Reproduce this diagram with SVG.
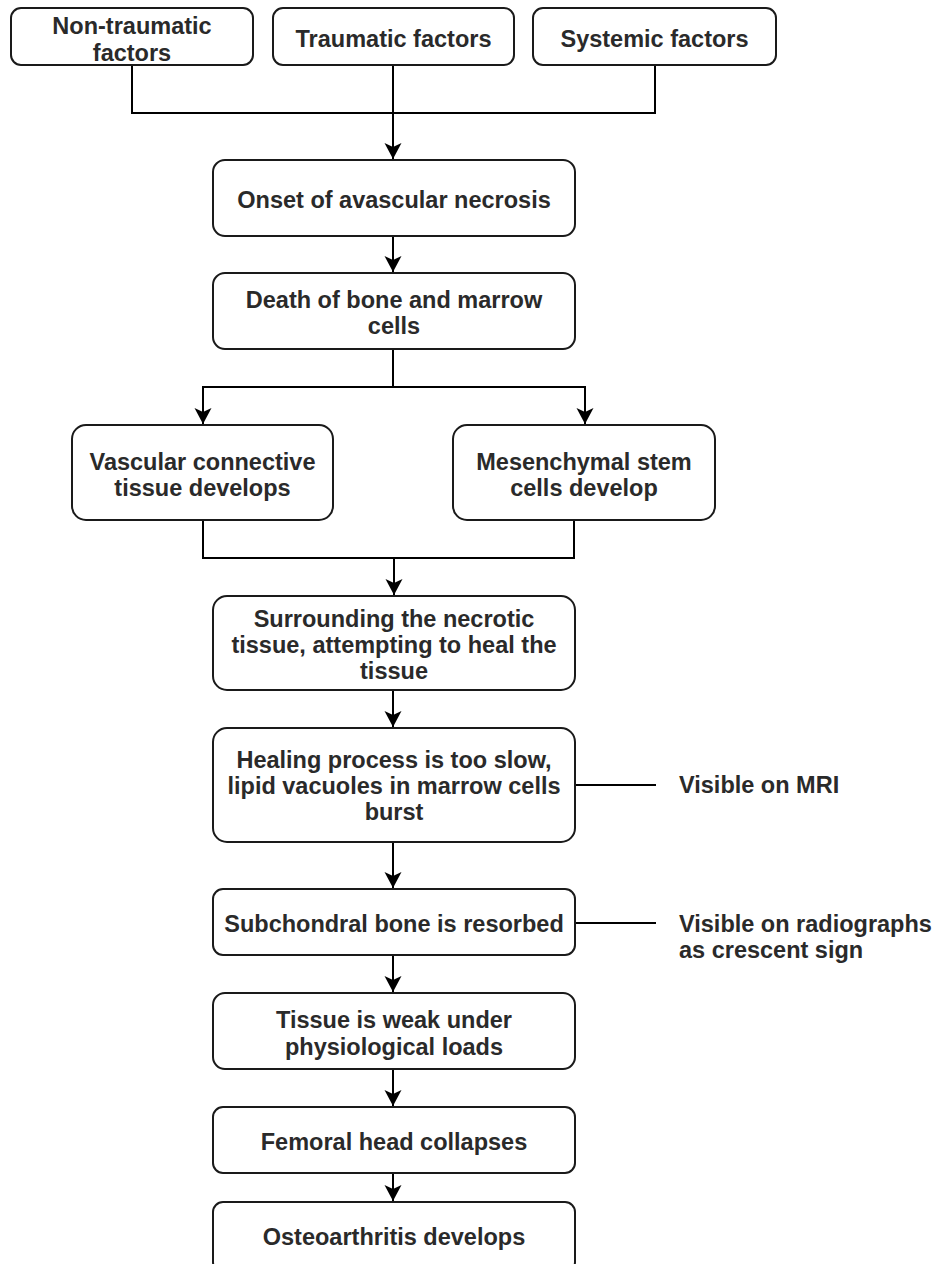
<svg xmlns="http://www.w3.org/2000/svg" width="936" height="1264" viewBox="0 0 936 1264">
<style>
.box{fill:#fff;stroke:#1a1a1a;stroke-width:2}
.t{font-family:"Liberation Sans",Arial,sans-serif;font-size:23.5px;font-weight:bold;fill:#2a2a2a;text-anchor:middle}
.l{text-anchor:start}
.c{fill:none;stroke:#000;stroke-width:2}
</style>
<defs>
<marker id="arr" markerUnits="userSpaceOnUse" markerWidth="18" markerHeight="20" viewBox="-17 -10 18 20" refX="0" refY="0" orient="auto" overflow="visible">
<path d="M0 0 L-16 -8.5 L-12 0 L-16 8.5 Z" fill="#000"/>
</marker>
</defs>
<rect width="936" height="1264" fill="#fff"/>
<g id="connectors">
<path class="c" d="M132 65 V113 H655 V65"/>
<path class="c" d="M393 65 V159" marker-end="url(#arr)"/>
<path class="c" d="M393 236 V272" marker-end="url(#arr)"/>
<path class="c" d="M393 349 V387"/>
<path class="c" d="M393 387 H203 V424" marker-end="url(#arr)"/>
<path class="c" d="M393 387 H585 V424" marker-end="url(#arr)"/>
<path class="c" d="M203 520 V558 H574 V520"/>
<path class="c" d="M394 558 V595" marker-end="url(#arr)"/>
<path class="c" d="M393 690 V727" marker-end="url(#arr)"/>
<path class="c" d="M393 842 V888" marker-end="url(#arr)"/>
<path class="c" d="M393 955 V992" marker-end="url(#arr)"/>
<path class="c" d="M393 1069 V1106" marker-end="url(#arr)"/>
<path class="c" d="M393 1173 V1201" marker-end="url(#arr)"/>
<path class="c" d="M574 785 H656"/>
<path class="c" d="M574 923 H656"/>
</g>
<g id="n-nontraumatic"><rect class="box" x="11" y="8" width="242" height="57" rx="10"/><text class="t" x="132" y="34">Non-traumatic</text><text class="t" x="132" y="60.5">factors</text></g>
<g id="n-traumatic"><rect class="box" x="273" y="8" width="241" height="57" rx="10"/><text class="t" x="393.5" y="47">Traumatic factors</text></g>
<g id="n-systemic"><rect class="box" x="533" y="8" width="243" height="57" rx="10"/><text class="t" x="654.5" y="47">Systemic factors</text></g>
<g id="n-onset"><rect class="box" x="213" y="160" width="362" height="76" rx="12"/><text class="t" x="394" y="207.5">Onset of avascular necrosis</text></g>
<g id="n-death"><rect class="box" x="213" y="273" width="362" height="76" rx="12"/><text class="t" x="394" y="308">Death of bone and marrow</text><text class="t" x="394" y="334">cells</text></g>
<g id="n-vascular"><rect class="box" x="72" y="425" width="261" height="95" rx="14"/><text class="t" x="202.5" y="470">Vascular connective</text><text class="t" x="202.5" y="496">tissue develops</text></g>
<g id="n-mesenchymal"><rect class="box" x="453" y="425" width="262" height="95" rx="14"/><text class="t" x="584" y="470">Mesenchymal stem</text><text class="t" x="584" y="496">cells develop</text></g>
<g id="n-surrounding"><rect class="box" x="213" y="596" width="362" height="94" rx="14"/><text class="t" x="394" y="627">Surrounding the necrotic</text><text class="t" x="394" y="653">tissue, attempting to heal the</text><text class="t" x="394" y="679">tissue</text></g>
<g id="n-healing"><rect class="box" x="213" y="728" width="362" height="114" rx="14"/><text class="t" x="394" y="768">Healing process is too slow,</text><text class="t" x="394" y="794">lipid vacuoles in marrow cells</text><text class="t" x="394" y="820">burst</text></g>
<g id="n-subchondral"><rect class="box" x="213" y="889" width="362" height="66" rx="10"/><text class="t" x="394" y="932">Subchondral bone is resorbed</text></g>
<g id="n-tissue"><rect class="box" x="213" y="993" width="362" height="76" rx="12"/><text class="t" x="394" y="1028">Tissue is weak under</text><text class="t" x="394" y="1055">physiological loads</text></g>
<g id="n-femoral"><rect class="box" x="213" y="1107" width="362" height="66" rx="10"/><text class="t" x="394" y="1150">Femoral head collapses</text></g>
<g id="n-osteo"><rect class="box" x="213" y="1202" width="362" height="70" rx="10"/><text class="t" x="394" y="1245">Osteoarthritis develops</text></g>
<g id="n-mri"><text class="t l" x="679" y="793">Visible on MRI</text></g>
<g id="n-radiographs"><text class="t l" x="679" y="932">Visible on radiographs</text><text class="t l" x="679" y="958">as crescent sign</text></g>
</svg>
